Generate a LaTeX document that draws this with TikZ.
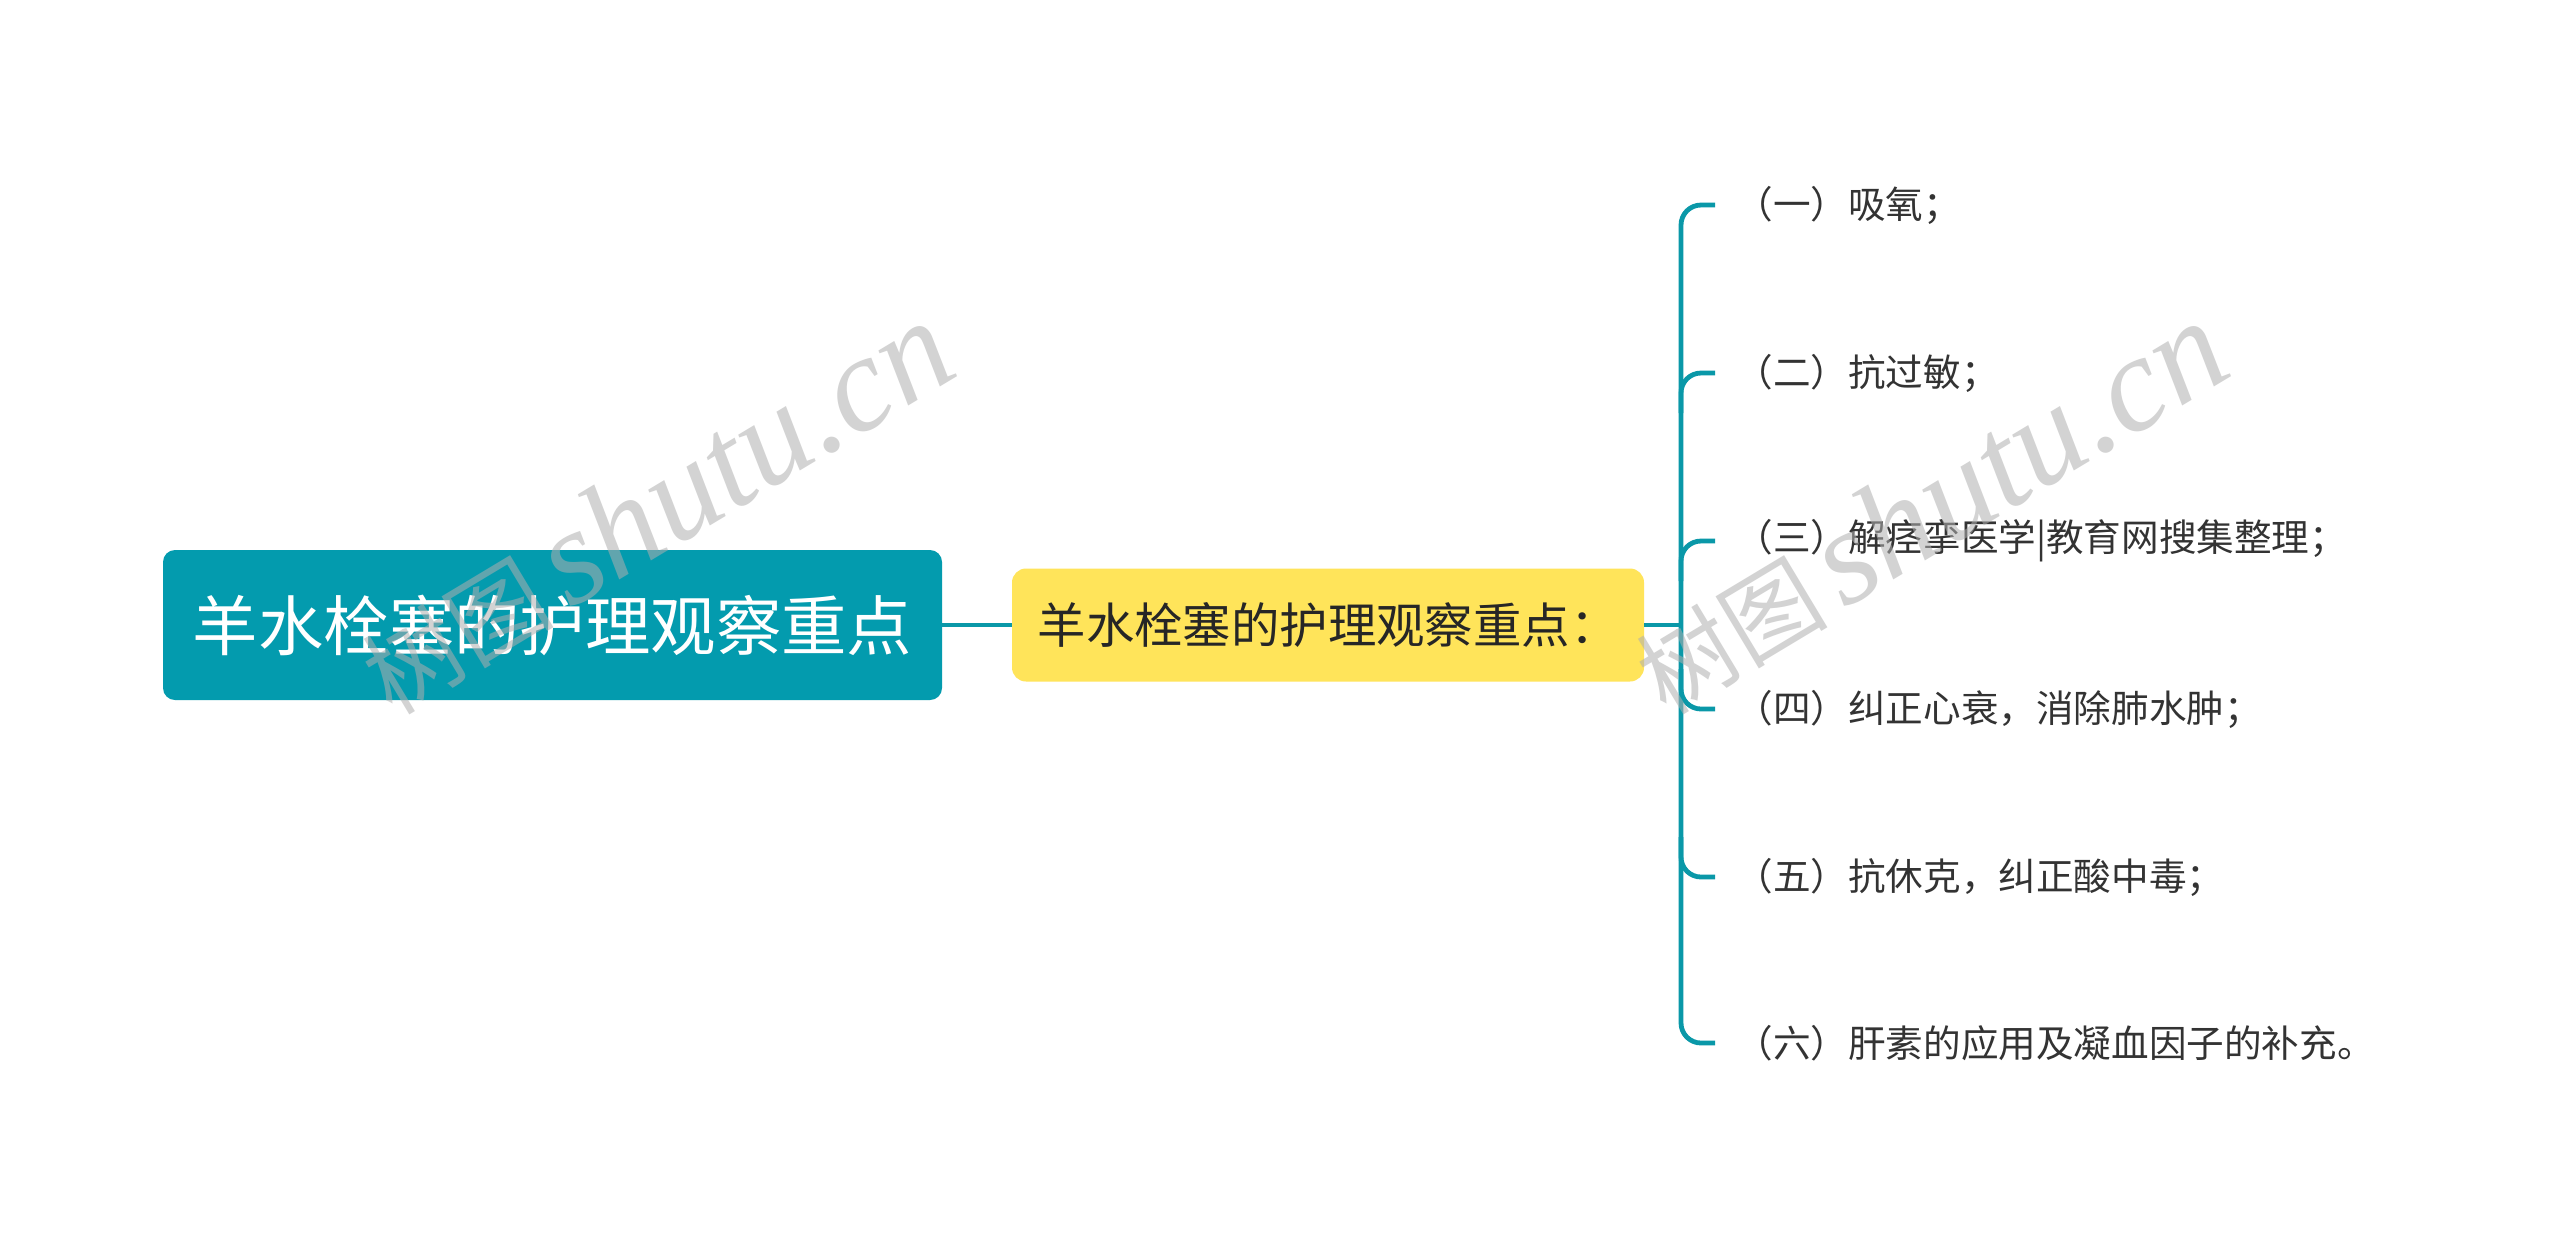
\documentclass[tikz,border=0pt]{standalone}
\usepackage{fontspec}
\setmainfont{Noto Sans CJK SC}
\newfontfamily\wmserif{Liberation Serif}
\definecolor{tealbox}{RGB}{3,155,174}
\definecolor{tealline}{RGB}{10,152,168}
\definecolor{yellowbox}{RGB}{255,228,90}
\definecolor{leaftext}{RGB}{51,51,51}
\definecolor{wmgray}{RGB}{175,175,175}
\tikzset{
  rootbox/.style={fill=tealbox, rounded corners=6pt, text=white, font=\fontsize{32.7}{38}\selectfont,
    minimum width=389.5pt, minimum height=75pt, inner sep=0pt},
  midbox/.style={fill=yellowbox, rounded corners=7pt, text=black!85, font=\fontsize{24.2}{28}\selectfont,
    minimum width=316pt, minimum height=56.5pt, inner sep=0pt},
  leaf/.style={anchor=west, text=leaftext, font=\fontsize{18.8}{22}\selectfont, inner xsep=10pt, inner ysep=0pt},
  conn/.style={draw=tealline, line width=2.4pt},
  wm/.style={text=wmgray, opacity=0.55, rotate=31, inner sep=0pt}
}
\begin{document}
\begin{tikzpicture}[x=0.5pt,y=-0.5pt]
\useasboundingbox (0,0) rectangle (2560,1250);
\fill[white] (0,0) rectangle (2560,1250);

\node[rootbox] (root) at (552.5,625) {羊水栓塞的护理观察重点};
\node[midbox] (mid) at (1328,625) {羊水栓塞的护理观察重点：};
\coordinate (jn) at (1681,625);

\node[leaf] (l1) at (1715,205) {（一）吸氧；};
\node[leaf] (l2) at (1715,373) {（二）抗过敏；};
\node[leaf] (l3) at (1715,541) {（三）解痉挛医学|教育网搜集整理；};
\node[leaf] (l4) at (1715,709) {（四）纠正心衰，消除肺水肿；};
\node[leaf] (l5) at (1715,877) {（五）抗休克，纠正酸中毒；};
\node[leaf] (l6) at (1715,1043) {（六）肝素的应用及凝血因子的补充。};

\draw[conn] (root.east) -- (mid.west);
\draw[conn] (mid.east) -- (jn);
\draw[conn, rounded corners=10pt] (l1.west) -| (jn) |- (l6.west);
\draw[conn, rounded corners=10pt] (l2.west) -| ++(-34,40);
\draw[conn, rounded corners=10pt] (l3.west) -| ++(-34,40);
\draw[conn, rounded corners=10pt] (l4.west) -| ++(-34,-40);
\draw[conn, rounded corners=10pt] (l5.west) -| ++(-34,-40);

\node[wm] (wm1) at (655,508) {\fontsize{48}{50}\selectfont 树图\,{\wmserif\itshape\fontsize{68}{70}\selectfont shutu.cn}};
\node[wm] (wm2) at (1929,508) {\fontsize{48}{50}\selectfont 树图\,{\wmserif\itshape\fontsize{68}{70}\selectfont shutu.cn}};
\end{tikzpicture}
\end{document}
